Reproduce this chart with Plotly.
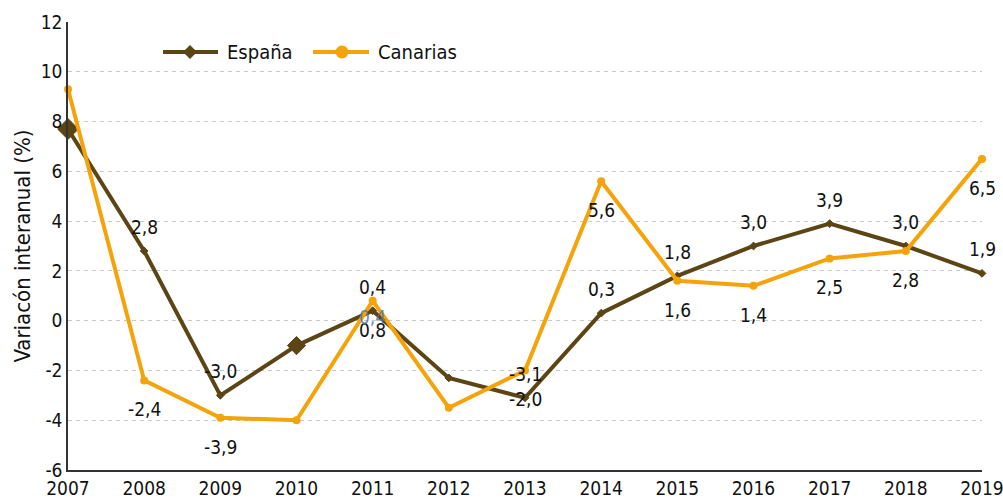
import plotly.graph_objects as go

years = [2007, 2008, 2009, 2010, 2011, 2012, 2013, 2014, 2015, 2016, 2017, 2018, 2019]
espana = [7.7, 2.8, -3.0, -1.0, 0.4, -2.3, -3.1, 0.3, 1.8, 3.0, 3.9, 3.0, 1.9]
canarias = [9.3, -2.4, -3.9, -4.0, 0.8, -3.5, -2.0, 5.6, 1.6, 1.4, 2.5, 2.8, 6.5]
show_esp = [False, True, True, False, True, False, True, True, True, True, True, True, True]
show_can = [False, True, True, False, True, False, True, True, True, True, True, True, True]
y_ticks = [-6, -4, -2, 0, 2, 4, 6, 8, 10, 12]
y_title = "Variacón interanual (%)"

def fmt(v):
    return f"{v:.1f}".replace(".", ",")

FONT = "DejaVu Sans Condensed"
ESP_C = "#5C4514"
CAN_C = "#F5A30A"
TXT_C = "#111111"

W, H = 1003, 502
# plot area in pixels
L, R, T, B = 68, 982, 22, 470
def px(x):
    return (x - L) / (R - L)
def py(y):
    return (B - y) / (B - T)

fig = go.Figure()
esp_sizes = [16, 6, 6, 14, 6, 6, 6, 6, 6, 6, 6, 6, 6]
fig.add_trace(go.Scatter(
    x=years, y=espana, name="España", mode="lines+markers",
    line=dict(color=ESP_C, width=4),
    marker=dict(symbol="diamond", size=esp_sizes, color=ESP_C, opacity=1,
                line=dict(color=ESP_C, width=1)),
    cliponaxis=False, showlegend=False, hoverinfo="skip",
))
fig.add_trace(go.Scatter(
    x=years, y=canarias, name="Canarias", mode="lines+markers",
    line=dict(color=CAN_C, width=4),
    marker=dict(symbol="circle", size=8, color=CAN_C, opacity=1),
    cliponaxis=False, showlegend=False, hoverinfo="skip",
))

for x, v, s in zip(years, espana, show_esp):
    if s:
        fig.add_annotation(x=x, y=v, text=fmt(v), showarrow=False, yshift=24,
                           font=dict(family=FONT, size=19, color=TXT_C))
for x, v, s in zip(years, canarias, show_can):
    if s:
        fig.add_annotation(x=x, y=v, text=fmt(v), showarrow=False, yshift=-29,
                           font=dict(family=FONT, size=19, color=TXT_C))

# stray highlighted label seen in the reference
fig.add_annotation(x=2011, y=espana[4], text=fmt(espana[4]), showarrow=False,
                   font=dict(family=FONT, size=19, color="rgba(80,115,170,0.85)"),
                   yshift=-6)

# custom legend
ly = 52
fig.add_shape(type="line", xref="paper", yref="paper", x0=px(163), x1=px(218),
              y0=py(ly), y1=py(ly), line=dict(color=ESP_C, width=4))
d = 7
fig.add_shape(type="path", xref="paper", yref="paper",
              path=f"M {px(190-d)} {py(ly)} L {px(190)} {py(ly-d)} L {px(190+d)} {py(ly)} L {px(190)} {py(ly+d)} Z",
              fillcolor=ESP_C, line=dict(color=ESP_C, width=0))
fig.add_annotation(xref="paper", yref="paper", x=px(225), y=py(ly), text="España",
                   showarrow=False, xanchor="left", yanchor="middle",
                   font=dict(family=FONT, size=20, color=TXT_C))
fig.add_shape(type="line", xref="paper", yref="paper", x0=px(313), x1=px(369),
              y0=py(ly), y1=py(ly), line=dict(color=CAN_C, width=4))
r = 6.5
fig.add_shape(type="circle", xref="paper", yref="paper",
              x0=px(342-r), x1=px(342+r), y0=py(ly+r), y1=py(ly-r),
              fillcolor=CAN_C, line=dict(color=CAN_C, width=0))
fig.add_annotation(xref="paper", yref="paper", x=px(376), y=py(ly), text="Canarias",
                   showarrow=False, xanchor="left", yanchor="middle",
                   font=dict(family=FONT, size=20, color=TXT_C))

fig.update_layout(
    width=W, height=H,
    margin=dict(l=L, r=W - R, t=T, b=H - B),
    paper_bgcolor="white", plot_bgcolor="white",
    font=dict(family=FONT, size=19, color=TXT_C),
    showlegend=False, hovermode=False,
)
fig.update_xaxes(range=[2007, 2019], tickmode="array", tickvals=years,
                 ticktext=[str(y) for y in years], showgrid=False,
                 showline=True, linecolor="#333333", linewidth=1.5,
                 ticks="", tickfont=dict(family=FONT, size=19), zeroline=False,
                 automargin=False, ticklabeloverflow="allow")
fig.update_yaxes(range=[-6, 12], tickmode="array", tickvals=y_ticks,
                 ticktext=[str(t) for t in y_ticks],
                 showgrid=True, gridcolor="#c8c8c8",
                 griddash="4px,4px", gridwidth=1, showline=True, linecolor="#333333",
                 linewidth=1.5, zeroline=False, ticks="",
                 tickfont=dict(family=FONT, size=19), automargin=False,
                 ticklabeloverflow="allow",
                 title=dict(text=y_title, font=dict(family=FONT, size=22),
                            standoff=4))

fig.write_html("out.html", config={"displayModeBar": False},
               post_script="document.body.style.margin='0';document.body.style.overflow='hidden';")
